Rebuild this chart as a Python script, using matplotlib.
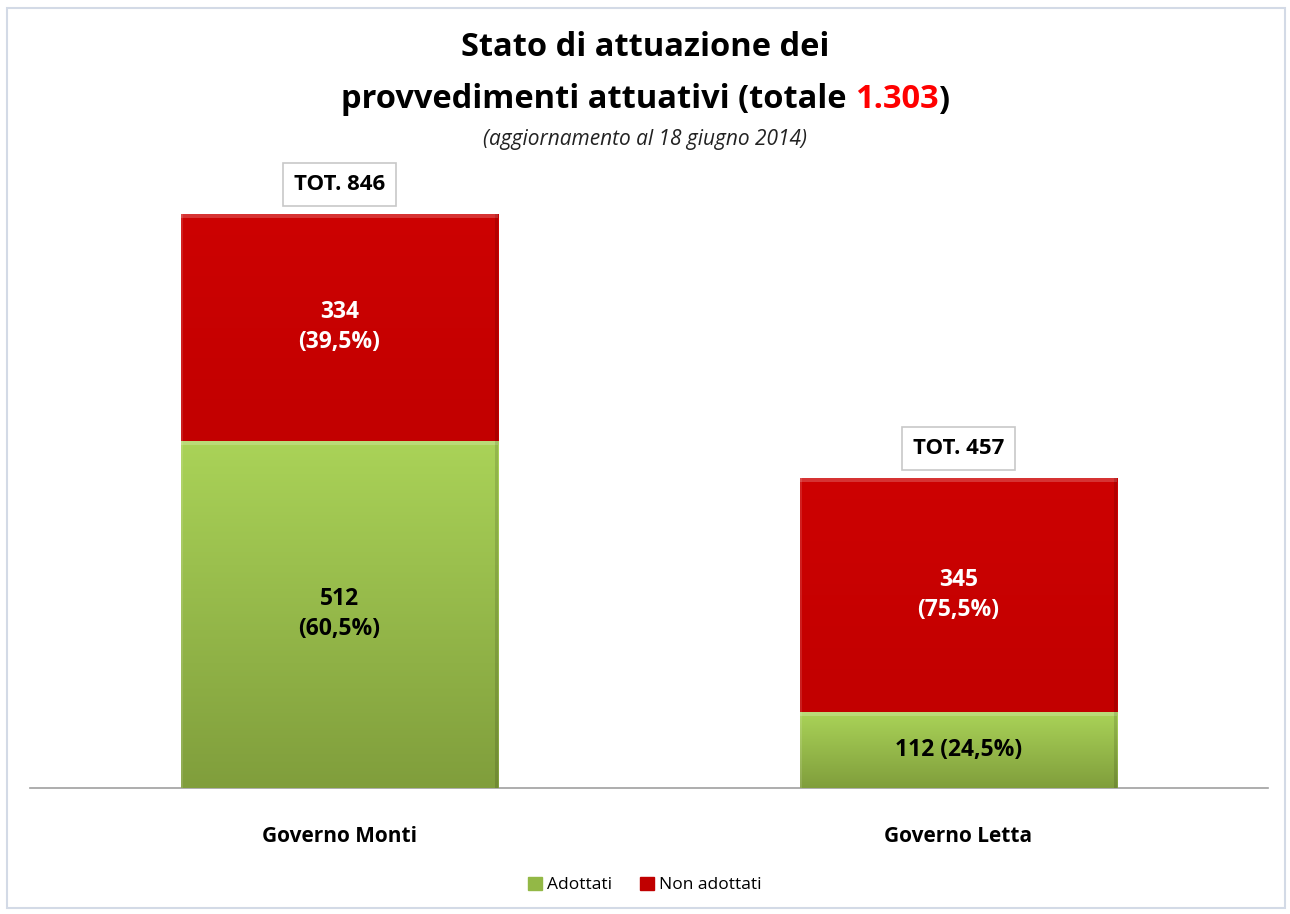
import matplotlib
matplotlib.use("Agg")
import matplotlib.pyplot as plt
import numpy as np
from matplotlib.patches import Rectangle
from matplotlib.colors import LinearSegmentedColormap

categories = ["Governo Monti", "Governo Letta"]
adottati = [512, 112]
non_adottati = [334, 345]
totali = [846, 457]
pct_adottati = ["60,5%", "24,5%"]
pct_non = ["39,5%", "75,5%"]
totale_generale = "1.303"

FONT = "Open Sans"
plt.rcParams['font.family'] = [FONT, 'DejaVu Sans']

W, H = 1290, 914
fig = plt.figure(figsize=(W/100, H/100), dpi=100)
fig.patch.set_facecolor("white")

# outer border
fig.add_artist(Rectangle((7/W, 6/H), (1285-7)/W, (908-8)/H, transform=fig.transFigure,
                         fill=False, edgecolor="#d3dae6", lw=1.5))

ax = fig.add_axes([30/W, 1-788/H, (1268-30)/W, (788-150)/H])
x = np.arange(len(categories))
width = 0.513
green_b = ax.bar(x, adottati, width, color="#9dc14a", label="Adottati", zorder=2)
red_b = ax.bar(x, non_adottati, width, bottom=adottati, color="#cc0000", label="Non adottati", zorder=2)

# gradient overlays
gcm = LinearSegmentedColormap.from_list("g", ["#809e3c", "#aad358"])
rcm = LinearSegmentedColormap.from_list("r", ["#c20000", "#cd0202"])
grad = np.linspace(0, 1, 256).reshape(-1, 1)
for bars, cm in ((green_b, gcm), (red_b, rcm)):
    for p in bars:
        x0, y0 = p.get_x(), p.get_y()
        w, h = p.get_width(), p.get_height()
        im = ax.imshow(grad, extent=(x0, x0 + w, y0, y0 + h), origin="lower",
                       cmap=cm, aspect="auto", zorder=3)
        im.set_clip_path(p)
        ax.add_patch(Rectangle((x0, y0 + h - 6), w, 6, color="white", alpha=0.2, lw=0, zorder=4))
        ax.add_patch(Rectangle((x0 + w - 0.006, y0), 0.006, h, color="black", alpha=0.12, lw=0, zorder=4))
        ax.add_patch(Rectangle((x0, y0), 0.004, h, color="white", alpha=0.12, lw=0, zorder=4))
ax.set_xlim(-0.5, 1.5)
ax.set_ylim(0, 940.3)

for s in ["top", "right", "left"]:
    ax.spines[s].set_visible(False)
ax.spines["bottom"].set_color("#a0a0a0")
ax.spines["bottom"].set_linewidth(1.2)
ax.set_yticks([])
ax.set_xticks(x)
ax.set_xticklabels(categories, fontsize=15, fontweight="bold")
ax.tick_params(axis="x", length=0, pad=27)

# labels inside bars
LBL = 16.5
ax.text(x[0], adottati[0] / 2, f"{adottati[0]}\n({pct_adottati[0]})", ha="center", va="center",
        fontsize=LBL, fontweight="bold", color="black", linespacing=1.35, zorder=5)
ax.text(x[1], adottati[1] / 2, f"{adottati[1]} ({pct_adottati[1]})", ha="center", va="center",
        fontsize=LBL, fontweight="bold", color="black", zorder=5)
for i in range(len(categories)):
    ax.text(x[i], adottati[i] + non_adottati[i] / 2, f"{non_adottati[i]}\n({pct_non[i]})",
            ha="center", va="center", fontsize=LBL, fontweight="bold", color="white",
            linespacing=1.35, zorder=5)
    ax.annotate(f"TOT. {totali[i]}", (x[i], totali[i]), xytext=(0, 21), textcoords="offset points",
                ha="center", va="center", fontsize=16, fontweight="bold",
                bbox=dict(boxstyle="square,pad=0.5", fc="white", ec="#c8c8c8", lw=1.2), zorder=6)

# title
fig.text(0.5, 1 - 48/H, "Stato di attuazione dei", ha="center", va="center",
         fontsize=23.5, fontweight="bold")
parts = ["provvedimenti attuativi (totale ", totale_generale, ")"]
colors = ["black", "#ff0000", "black"]
renderer = fig.canvas.get_renderer()
ytitle = 1 - 100/H
tmp = fig.text(0, ytitle, "".join(parts), fontsize=23.5, fontweight="bold", va="center")
total_w = tmp.get_window_extent(renderer).width
tmp.remove()
cur = (W / 2 - total_w / 2)
for ptxt, col in zip(parts, colors):
    t = fig.text(cur / W, ytitle, ptxt, fontsize=23.5, fontweight="bold", va="center", color=col)
    cur += t.get_window_extent(renderer).width
fig.text(0.5, 1 - 140/H, "(aggiornamento al 18 giugno 2014)", ha="center", va="center",
         fontsize=15, style="italic", color="#222222")

# legend
handles = [Rectangle((0, 0), 1, 1, color="#93b846"), Rectangle((0, 0), 1, 1, color="#c00000")]
fig.legend(handles, ["Adottati", "Non adottati"], loc="center", bbox_to_anchor=(0.5, 1 - 885/H),
           ncol=2, frameon=False, fontsize=12.5, handlelength=0.8, handleheight=0.8,
           handletextpad=0.3, columnspacing=1.6)

fig.savefig("out.png", dpi=100, facecolor="white")
